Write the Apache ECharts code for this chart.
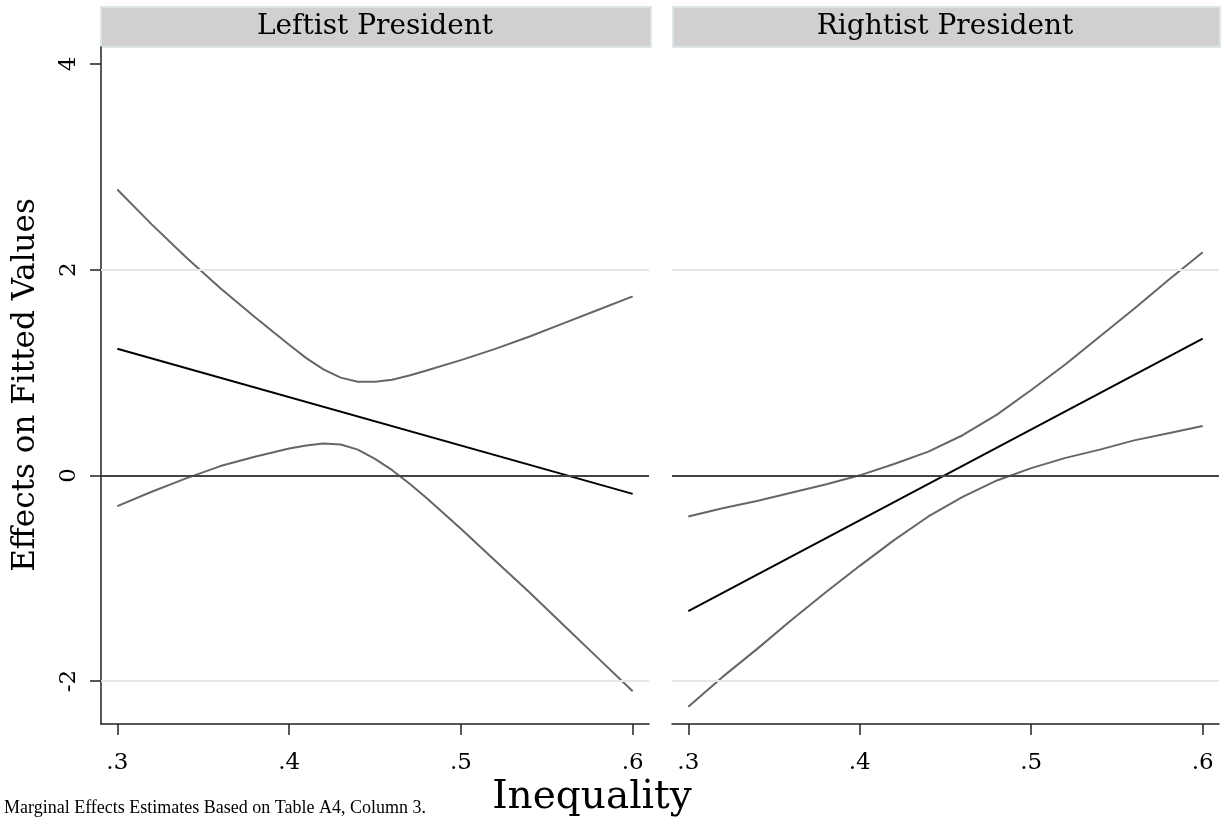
<!DOCTYPE html>
<html>
<head>
<meta charset="utf-8">
<script src="https://cdn.jsdelivr.net/npm/echarts@6/dist/echarts.min.js"></script>
<style>
  html, body { margin: 0; padding: 0; background: #fff; }
  #main { width: 1225px; height: 827px; }
</style>
</head>
<body>
<div id="main"></div>
<script>
// panel titles
const panels = ["Leftist President", "Rightist President"];

// x ticks / y ticks
const xTicks = [0.3, 0.4, 0.5, 0.6];
const yTicks = [-2, 0, 2, 4];

// leftist president: fitted effect and 95% bounds
const xsLeft = [0.30, 0.32, 0.34, 0.36, 0.38, 0.40, 0.41, 0.42, 0.43, 0.44, 0.45, 0.46, 0.47, 0.48, 0.50, 0.52, 0.54, 0.56, 0.58, 0.60];
const upperLeft = [2.78, 2.44, 2.12, 1.82, 1.54, 1.27, 1.14, 1.03, 0.95, 0.91, 0.91, 0.93, 0.97, 1.02, 1.12, 1.23, 1.35, 1.48, 1.61, 1.74];
const lowerLeft = [-0.30, -0.16, -0.03, 0.09, 0.18, 0.26, 0.29, 0.31, 0.30, 0.25, 0.16, 0.05, -0.08, -0.22, -0.52, -0.83, -1.14, -1.46, -1.78, -2.10];
const xsLeftFit = [0.30, 0.60];
const fitLeft = [1.23, -0.18];

// rightist president
const xsRight = [0.30, 0.32, 0.34, 0.36, 0.38, 0.40, 0.42, 0.44, 0.46, 0.48, 0.50, 0.52, 0.54, 0.56, 0.58, 0.60];
const upperRight = [-0.40, -0.32, -0.25, -0.17, -0.09, 0.00, 0.11, 0.23, 0.39, 0.59, 0.83, 1.08, 1.35, 1.62, 1.90, 2.17];
const lowerRight = [-2.25, -1.96, -1.69, -1.41, -1.14, -0.88, -0.63, -0.40, -0.21, -0.05, 0.07, 0.17, 0.25, 0.34, 0.41, 0.48];
const xsRightFit = [0.30, 0.60];
const fitRight = [-1.32, 1.33];

const FONT = "DejaVu Serif";
const pairs = (xs, ys) => xs.map((x, i) => [x, ys[i]]);

const chart = echarts.init(document.getElementById("main"), null, { renderer: "canvas" });

const grids = [
  { left: 101, top: 47, width: 548, height: 677 },
  { left: 672, top: 47, width: 547, height: 677 }
];

function xAxisFor(i) {
  return {
    type: "value", gridIndex: i, min: 0.2905, max: 0.6095,
    axisLine: { show: true, onZero: false, lineStyle: { color: "#222", width: 1.5 } },
    axisTick: { show: true, length: 11, customValues: xTicks, lineStyle: { color: "#222", width: 1.5 } },
    axisLabel: {
      customValues: xTicks, margin: 28, fontFamily: FONT, fontSize: 23, color: "#000",
      formatter: v => v.toFixed(1).replace("0.", ".")
    },
    splitLine: { show: false }
  };
}

function yAxisFor(i) {
  const show = i === 0;
  return {
    type: "value", gridIndex: i, min: -2.418, max: 4.165,
    axisLine: { show: show, onZero: false, lineStyle: { color: "#222", width: 1.5 } },
    axisTick: { show: show, length: 11, customValues: yTicks, lineStyle: { color: "#222", width: 1.5 } },
    axisLabel: {
      show: show, customValues: yTicks, rotate: 90, margin: 20,
      fontFamily: FONT, fontSize: 23, color: "#000",
      formatter: v => String(v)
    },
    splitLine: { show: false }
  };
}

function refLines(i) {
  return {
    type: "line", xAxisIndex: i, yAxisIndex: i, data: [], silent: true, z: 1,
    markLine: {
      silent: true, symbol: "none", animation: false, label: { show: false },
      data: [
        { yAxis: 2, lineStyle: { color: "#e6e6e6", width: 2, type: "solid" } },
        { yAxis: -2, lineStyle: { color: "#e6e6e6", width: 2, type: "solid" } },
        { yAxis: 0, lineStyle: { color: "#444", width: 2, type: "solid" } }
      ]
    }
  };
}

function curve(i, data, color) {
  return {
    type: "line", xAxisIndex: i, yAxisIndex: i, data: data,
    showSymbol: false, symbol: "none", smooth: false, z: 3,
    lineStyle: { color: color, width: 2 }, animation: false
  };
}

const option = {
  animation: false,
  backgroundColor: "#fff",
  grid: grids,
  xAxis: [xAxisFor(0), xAxisFor(1)],
  yAxis: [yAxisFor(0), yAxisFor(1)],
  series: [
    refLines(0),
    refLines(1),
    curve(0, pairs(xsLeft, upperLeft), "#666"),
    curve(0, pairs(xsLeft, lowerLeft), "#666"),
    curve(0, pairs(xsLeftFit, fitLeft), "#000"),
    curve(1, pairs(xsRight, upperRight), "#666"),
    curve(1, pairs(xsRight, lowerRight), "#666"),
    curve(1, pairs(xsRightFit, fitRight), "#000")
  ],
  graphic: [
    {
      type: "rect", left: 100, top: 6,
      shape: { width: 550, height: 40 },
      style: { fill: "#d0d0d0", stroke: "#dde5e9", lineWidth: 2 }
    },
    {
      type: "text", x: 375, y: 27,
      style: { text: panels[0], fontFamily: FONT, fontSize: 28, fill: "#000", align: "center", verticalAlign: "middle" }
    },
    {
      type: "rect", left: 672, top: 6,
      shape: { width: 547, height: 40 },
      style: { fill: "#d0d0d0", stroke: "#dde5e9", lineWidth: 2 }
    },
    {
      type: "text", x: 945, y: 27,
      style: { text: panels[1], fontFamily: FONT, fontSize: 28, fill: "#000", align: "center", verticalAlign: "middle" }
    },
    {
      type: "text", x: 26, y: 385, rotation: Math.PI / 2,
      style: { text: "Effects on Fitted Values", fontFamily: FONT, fontSize: 31, fill: "#000", align: "center", verticalAlign: "middle" }
    },
    {
      type: "text", x: 592, y: 798,
      style: { text: "Inequality", fontFamily: FONT, fontSize: 39, fill: "#000", align: "center", verticalAlign: "middle" }
    },
    {
      type: "text", x: 4, y: 808,
      style: { text: "Marginal Effects Estimates Based on Table A4, Column 3.", fontFamily: "Liberation Serif", fontSize: 18, fill: "#000", align: "left", verticalAlign: "middle" }
    }
  ]
};

chart.setOption(option);
</script>
</body>
</html>
